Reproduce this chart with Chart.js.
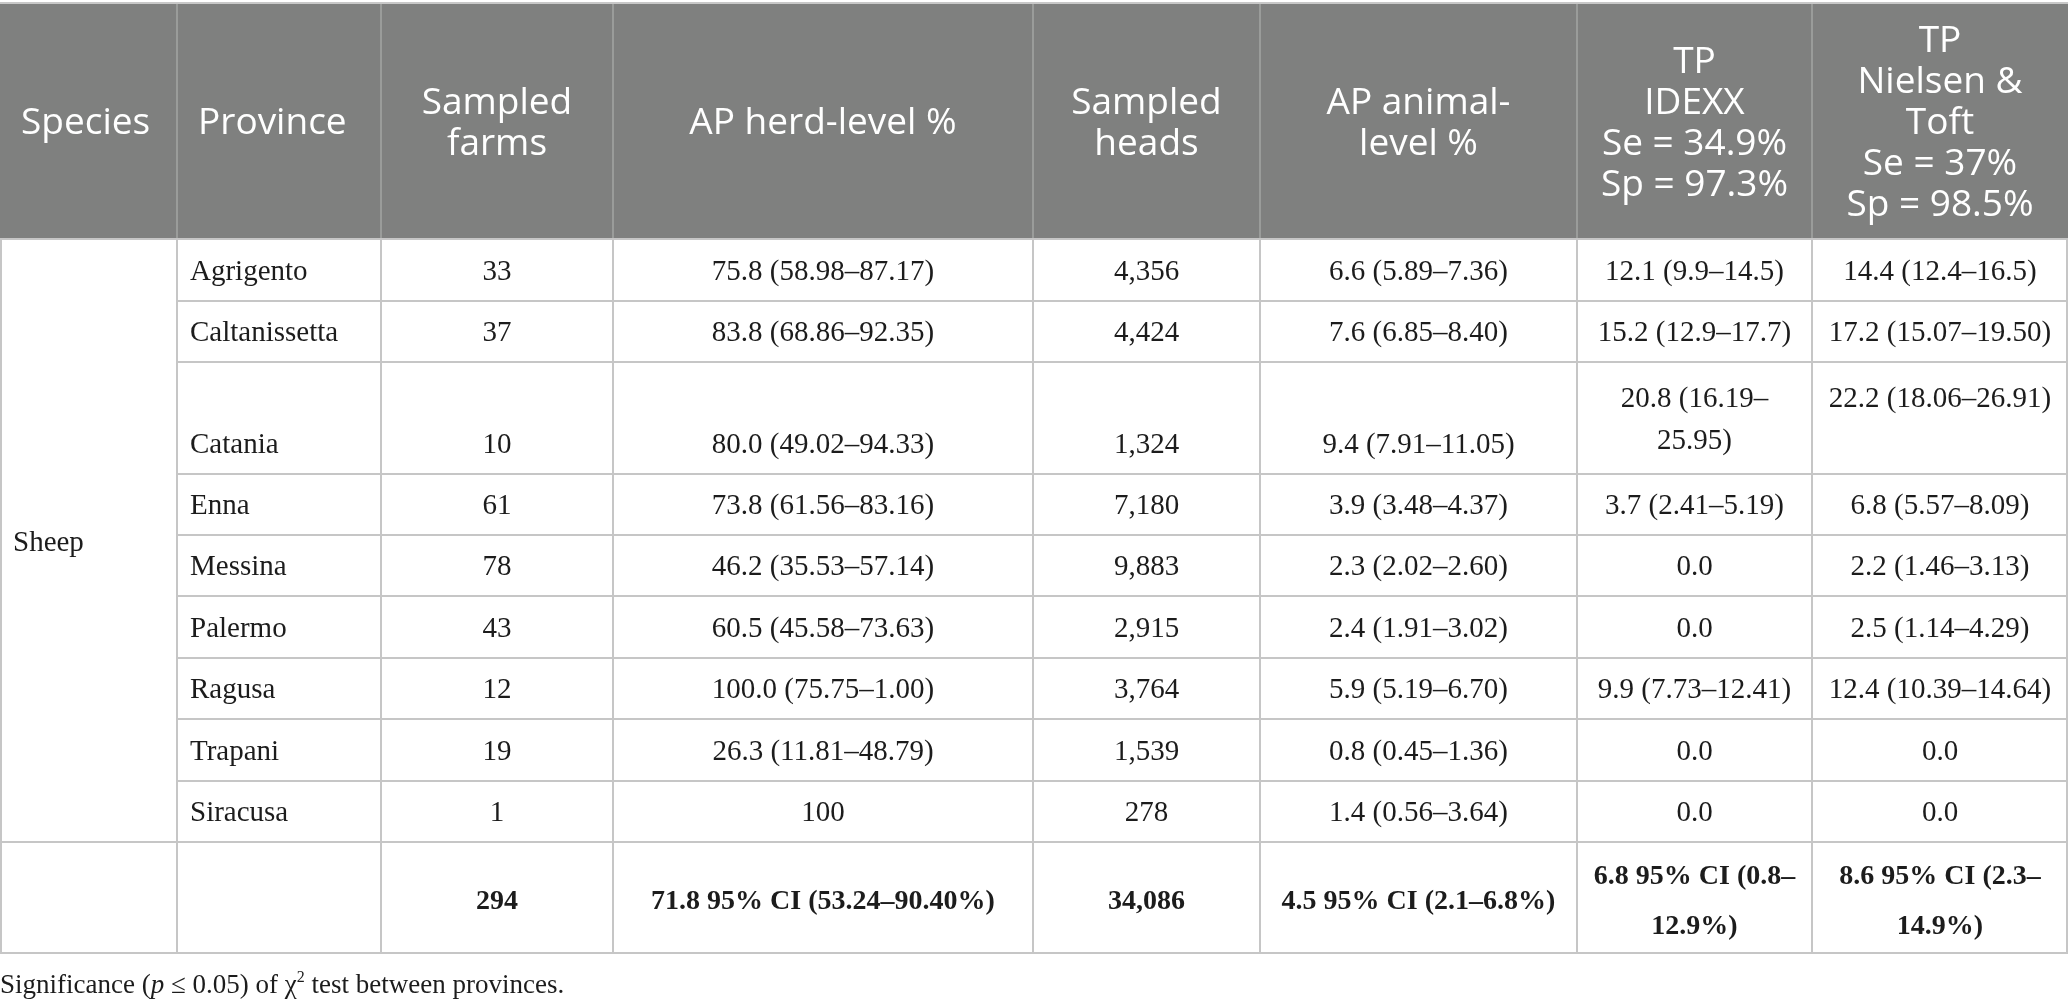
<!DOCTYPE html>
<html>
<head>
<meta charset="utf-8">
<script src="https://cdn.jsdelivr.net/npm/chart.js@4.4.1/dist/chart.umd.min.js"></script>
<style>
  html, body { margin: 0; padding: 0; background: #fff; }
  #wrap { width: 2068px; height: 1008px; }
</style>
</head>
<body>
<div id="wrap"><canvas id="myChart_table"></canvas></div>
<script>
// table content
const headers = ['Species', 'Province', 'Sampled\nfarms', 'AP herd-level %', 'Sampled\nheads', 'AP animal-\nlevel %',
  'TP\nIDEXX\nSe = 34.9%\nSp = 97.3%', 'TP\nNielsen &\nToft\nSe = 37%\nSp = 98.5%'];
const species = 'Sheep';
const provinces = ['Agrigento', 'Caltanissetta', 'Catania', 'Enna', 'Messina', 'Palermo', 'Ragusa', 'Trapani', 'Siracusa'];
const sampledFarms = ['33', '37', '10', '61', '78', '43', '12', '19', '1'];
const herdLevel = ['75.8 (58.98–87.17)', '83.8 (68.86–92.35)', '80.0 (49.02–94.33)', '73.8 (61.56–83.16)', '46.2 (35.53–57.14)',
  '60.5 (45.58–73.63)', '100.0 (75.75–1.00)', '26.3 (11.81–48.79)', '100'];
const sampledHeads = ['4,356', '4,424', '1,324', '7,180', '9,883', '2,915', '3,764', '1,539', '278'];
const animalLevel = ['6.6 (5.89–7.36)', '7.6 (6.85–8.40)', '9.4 (7.91–11.05)', '3.9 (3.48–4.37)', '2.3 (2.02–2.60)',
  '2.4 (1.91–3.02)', '5.9 (5.19–6.70)', '0.8 (0.45–1.36)', '1.4 (0.56–3.64)'];
const tpIdexx = ['12.1 (9.9–14.5)', '15.2 (12.9–17.7)', '20.8 (16.19–25.95)', '3.7 (2.41–5.19)', '0.0', '0.0',
  '9.9 (7.73–12.41)', '0.0', '0.0'];
const tpNielsen = ['14.4 (12.4–16.5)', '17.2 (15.07–19.50)', '22.2 (18.06–26.91)', '6.8 (5.57–8.09)', '2.2 (1.46–3.13)',
  '2.5 (1.14–4.29)', '12.4 (10.39–14.64)', '0.0', '0.0'];
const totals = ['', '', '294', '71.8 95% CI (53.24–90.40%)', '34,086', '4.5 95% CI (2.1–6.8%)',
  '6.8 95% CI (0.8–12.9%)', '8.6 95% CI (2.3–14.9%)'];
const footnote = ['Significance (', 'p', ' ≤ 0.05) of χ', '2', ' test between provinces.'];

// layout (page px, read through the hidden linear scales)
const colEdges = [0, 177, 381, 613, 1033, 1260, 1577, 1812, 2068];
const rowEdges = [4, 239, 301, 362, 474, 535, 596, 658, 719, 781, 842, 953];
const serif = '"Liberation Serif", "Times New Roman", serif';
const sans = '"Open Sans", "Noto Sans", sans-serif';

function wrapText(ctx, text, maxW) {
  const lines = [];
  text.split('\n').forEach(par => {
    const toks = par.split(/(?<=[ –-])/);
    let line = '';
    toks.forEach(t => {
      if (line && ctx.measureText((line + t).trimEnd()).width > maxW) {
        lines.push(line.trimEnd());
        line = t;
      } else {
        line += t;
      }
    });
    lines.push(line.trimEnd());
  });
  return lines;
}

const tablePlugin = {
  id: 'tableDraw',
  afterDraw(chart) {
    const ctx = chart.ctx;
    const sx = chart.scales.x, sy = chart.scales.y;
    const px = v => sx.getPixelForValue(v);
    const py = v => sy.getPixelForValue(v);
    const W = colEdges[colEdges.length - 1];
    ctx.save();

    // header band
    ctx.fillStyle = '#7f807f';
    ctx.fillRect(px(0), py(rowEdges[0]), px(W) - px(0), py(rowEdges[1]) - py(rowEdges[0]));
    ctx.strokeStyle = '#c8c8c8';
    ctx.lineWidth = 2;
    ctx.beginPath();
    ctx.moveTo(px(0), py(rowEdges[0]) - 1); ctx.lineTo(px(W), py(rowEdges[0]) - 1);
    ctx.stroke();
    ctx.strokeStyle = '#a4a5a4';
    ctx.lineWidth = 1.5;
    ctx.beginPath();
    colEdges.slice(1, -1).forEach(c => {
      ctx.moveTo(px(c), py(rowEdges[0])); ctx.lineTo(px(c), py(rowEdges[1]));
    });
    ctx.stroke();

    // body grid
    ctx.strokeStyle = '#c6c6c6';
    ctx.lineWidth = 2;
    ctx.beginPath();
    const last = rowEdges.length - 1;
    rowEdges.slice(1).forEach((r, i) => {
      const full = (i === 0 || r >= rowEdges[last - 1]);
      ctx.moveTo(px(full ? 0 : colEdges[1]), py(r));
      ctx.lineTo(px(W), py(r));
    });
    colEdges.forEach((c, i) => {
      const xx = i === 0 ? px(c) + 1 : (i === colEdges.length - 1 ? px(c) - 1 : px(c));
      ctx.moveTo(xx, py(rowEdges[1])); ctx.lineTo(xx, py(rowEdges[last]));
    });
    ctx.stroke();

    // header text
    ctx.fillStyle = '#ffffff';
    ctx.font = '37px ' + sans;
    ctx.textBaseline = 'middle';
    const hMid = (py(rowEdges[0]) + py(rowEdges[1])) / 2 + 2;
    headers.forEach((h, c) => {
      const l = px(colEdges[c]), r = px(colEdges[c + 1]);
      const lines = h.split('\n');
      const lh = 41;
      lines.forEach((ln, k) => {
        const yy = hMid + (k - (lines.length - 1) / 2) * lh;
        if (c < 2) { ctx.textAlign = 'left'; ctx.fillText(ln, l + 21, yy); }
        else { ctx.textAlign = 'center'; ctx.fillText(ln, (l + r) / 2, yy); }
      });
    });

    // body text
    const columns = [null, provinces, sampledFarms, herdLevel, sampledHeads, animalLevel, tpIdexx, tpNielsen];
    ctx.fillStyle = '#1c1c1c';
    ctx.font = '29px ' + serif;
    provinces.forEach((p, i) => {
      const top = py(rowEdges[i + 1]), bot = py(rowEdges[i + 2]);
      const mid = (top + bot) / 2 + 2;
      const lh = 42;
      const cells = columns.map((col, c) => {
        if (!col) return null;
        const l = px(colEdges[c]), r = px(colEdges[c + 1]);
        return { c, l, r, lines: wrapText(ctx, col[i], r - l - 28) };
      }).filter(Boolean);
      const maxLines = Math.max(...cells.map(k => k.lines.length));
      cells.forEach(cell => {
        let start;
        if (cell.lines.length > 1 || maxLines === 1) start = mid - (cell.lines.length - 1) / 2 * lh;
        else if (cell.c === 7) start = mid - (maxLines - 1) / 2 * lh;
        else start = mid + (maxLines - 1) / 2 * lh + 4;
        cell.lines.forEach((ln, k) => {
          if (cell.c === 1) { ctx.textAlign = 'left'; ctx.fillText(ln, cell.l + 13, start + k * lh); }
          else { ctx.textAlign = 'center'; ctx.fillText(ln, (cell.l + cell.r) / 2, start + k * lh); }
        });
      });
    });

    // species spanning label
    ctx.textAlign = 'left';
    ctx.fillText(species, px(colEdges[0]) + 13, (py(rowEdges[1]) + py(rowEdges[last - 1])) / 2 + 3);

    // totals row
    ctx.font = 'bold 28px ' + serif;
    const tMid = (py(rowEdges[last - 1]) + py(rowEdges[last])) / 2 + 4;
    totals.forEach((t, c) => {
      if (!t) return;
      const l = px(colEdges[c]), r = px(colEdges[c + 1]);
      const lines = wrapText(ctx, t, r - l - 28);
      lines.forEach((ln, k) => {
        ctx.textAlign = 'center';
        ctx.fillText(ln, (l + r) / 2, tMid + (k - (lines.length - 1) / 2) * 50);
      });
    });

    // footnote
    let fx = px(0);
    const fy = py(986);
    ctx.textAlign = 'left';
    footnote.forEach((s, k) => {
      let f = '27px ' + serif, dy = 0;
      if (k === 1) f = 'italic 27px ' + serif;
      if (k === 3) { f = '16px ' + serif; dy = -8; }
      ctx.font = f;
      ctx.fillText(s, fx, fy + dy);
      fx += ctx.measureText(s).width;
    });

    ctx.restore();
  }
};

new Chart(document.getElementById('myChart_table'), {
  type: 'scatter',
  data: { datasets: [] },
  options: {
    responsive: true,
    maintainAspectRatio: false,
    animation: false,
    layout: { padding: 0 },
    plugins: { legend: { display: false }, tooltip: { enabled: false } },
    scales: {
      x: { type: 'linear', min: 0, max: 2068, display: false },
      y: { type: 'linear', min: 0, max: 1008, reverse: true, display: false }
    }
  },
  plugins: [tablePlugin]
});
</script>
</body>
</html>
